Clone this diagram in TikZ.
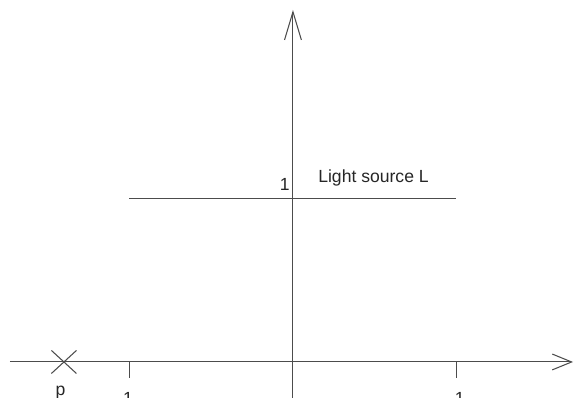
\documentclass[tikz,border=0pt]{standalone}
\usepackage{fontspec}
\setmainfont{Liberation Sans}
\usetikzlibrary{arrows.meta,shapes.misc}

\tikzset{
    axis/.style={draw=black!70, line width=0.6pt},
    lbl/.style={inner sep=0pt, font=\fontsize{10}{12}\selectfont, text=black!85},
}

\begin{document}
\begin{tikzpicture}[x=3.27cm, y=3.27cm]
    \useasboundingbox (-1.792,-0.220) rectangle (1.719,2.214);

    % Axes
    \coordinate (O) at (0,0);
    \coordinate (xstart) at (-1.731,0);
    \coordinate (xend) at (1.713,0);
    \coordinate (ystart) at (0,-0.25);
    \coordinate (yend) at (0,2.153);
    \draw[axis, -{Straight Barb[length=11pt,width=9pt,line width=0.6pt]}] (xstart) -- (xend);
    \draw[axis, -{Straight Barb[length=16pt,width=9.6pt,line width=0.6pt]}] (ystart) -- (yend);

    % Ticks
    \coordinate (tickl) at (-1,0);
    \coordinate (tickr) at (1,0);
    \draw[axis] (tickl) -- ++(0,-0.098);
    \draw[axis] (tickr) -- ++(0,-0.098);
    \node[lbl, anchor=base] (onel) at (-1.009,-0.261) {1};
    \node[lbl, anchor=base] (oner) at (1.021,-0.261) {1};

    % Light source
    \coordinate (lightl) at (-1,1);
    \coordinate (lightr) at (1,1);
    \draw[axis] (lightl) -- (lightr);
    \node[lbl, anchor=base] (oney) at (-0.05,1.046) {1};
    \node[lbl, anchor=base west] (light) at (0.153,1.097) {Light source L};

    % Point p
    \node[cross out, draw=black!70, line width=0.6pt, minimum width=0.48cm,
          minimum height=0.44cm, inner sep=0pt] (pmark) at (-1.401,0) {};
    \node[lbl, anchor=base] (p) at (-1.422,-0.205) {p};
\end{tikzpicture}
\end{document}
